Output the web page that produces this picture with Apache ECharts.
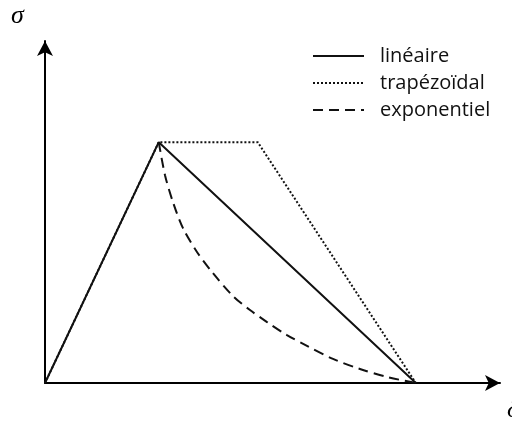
<!DOCTYPE html>
<html>
<head>
<meta charset="utf-8">
<script src="https://cdn.jsdelivr.net/npm/echarts@6/dist/echarts.min.js"></script>
<style>
  html, body { margin: 0; padding: 0; background: #fff; }
  #chart { width: 512px; height: 423px; }
</style>
</head>
<body>
<div id="chart"></div>
<script>
// Traction-separation laws: stress σ versus opening δ
const seriesNames = ['linéaire', 'trapézoïdal', 'exponentiel'];

const linearLaw = [[0, 0], [1, 1], [3.26, 0]];
const trapezoidLaw = [[0, 0], [1, 1], [1.87, 1], [3.26, 0]];
const exponentialLaw = [
  [1, 1], [1.055, 0.863], [1.125, 0.751], [1.213, 0.643], [1.336, 0.544],
  [1.468, 0.461], [1.653, 0.361], [1.802, 0.303], [1.952, 0.253],
  [2.127, 0.199], [2.303, 0.154], [2.532, 0.1], [2.769, 0.058],
  [3.007, 0.025], [3.26, 0]
];

const chart = echarts.init(document.getElementById('chart'), null, { renderer: 'canvas' });

const axisCommon = {
  type: 'value',
  axisLine: {
    show: true,
    symbol: ['none', 'arrow'],
    symbolSize: [12, 15],
    lineStyle: { color: '#000', width: 2 }
  },
  axisTick: { show: false },
  axisLabel: { show: false },
  splitLine: { show: false }
};

chart.setOption({
  animation: false,
  backgroundColor: '#fff',
  grid: { left: 45, right: 12, top: 41, bottom: 40 },
  xAxis: Object.assign({}, axisCommon, { min: 0, max: 4 }),
  yAxis: Object.assign({}, axisCommon, { min: 0, max: 1.42 }),
  legend: {
    orient: 'vertical',
    left: 307,
    top: 41,
    itemWidth: 51,
    itemHeight: 14,
    itemGap: 7,
    itemStyle: { opacity: 0 },
    textStyle: {
      fontFamily: 'Open Sans, Noto Sans, sans-serif', fontSize: 20, color: '#111',
      padding: [0, 0, 0, 11]
    },
    data: seriesNames
  },
  graphic: [
    {
      type: 'text', left: 11, top: 3,
      style: { text: 'σ', font: 'italic 26px "Liberation Serif", serif', fill: '#000' }
    },
    {
      type: 'text', left: 507, top: 397,
      style: { text: 'δ', font: 'italic 26px "Liberation Serif", serif', fill: '#000' }
    }
  ],
  series: [
    {
      name: 'trapézoïdal', type: 'line', data: trapezoidLaw, z: 1,
      symbol: 'none',
      lineStyle: { color: '#111', width: 2, type: [2, 2] },
      itemStyle: { color: '#111' }
    },
    {
      name: 'exponentiel', type: 'line', data: exponentialLaw, z: 2,
      symbol: 'none', smooth: 0.3,
      lineStyle: { color: '#111', width: 2, type: [10, 6] },
      itemStyle: { color: '#111' }
    },
    {
      name: 'linéaire', type: 'line', data: linearLaw, z: 3,
      symbol: 'none',
      lineStyle: { color: '#111', width: 2, type: 'solid' },
      itemStyle: { color: '#111' }
    }
  ]
});
</script>
</body>
</html>
